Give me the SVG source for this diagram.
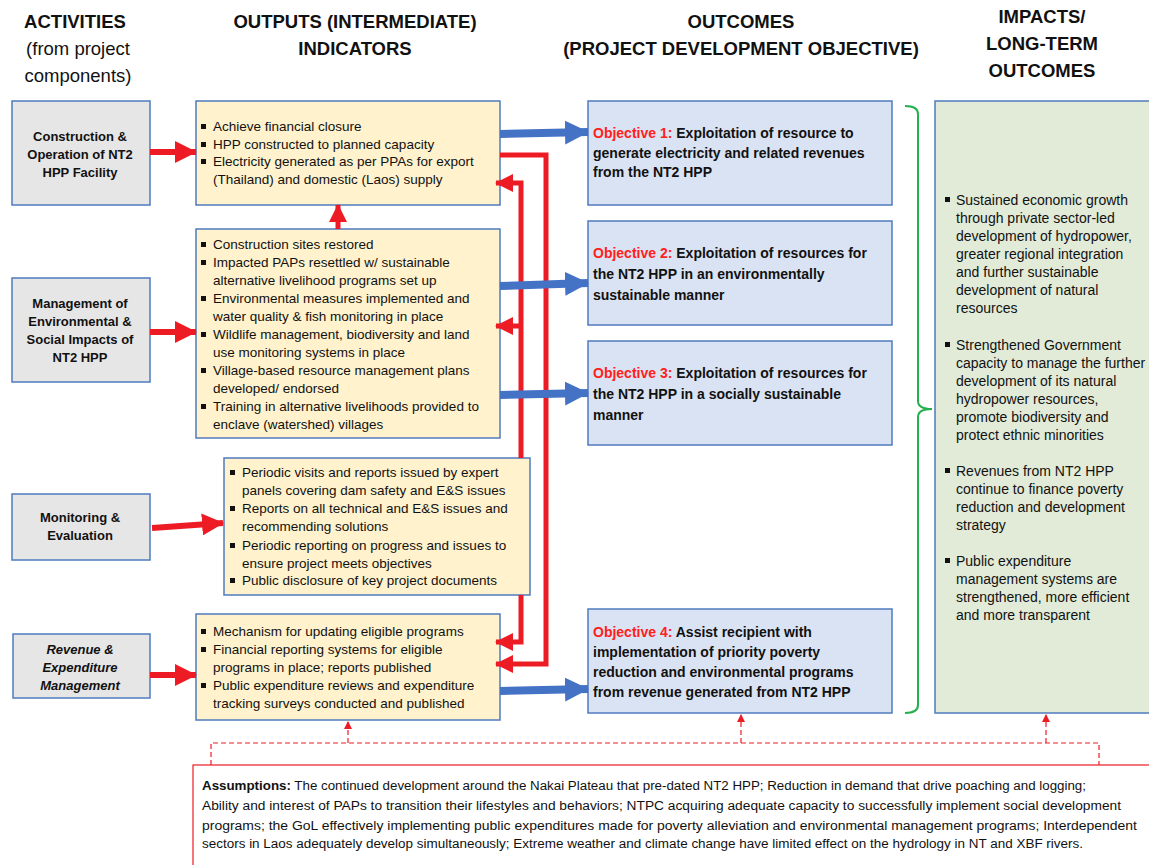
<svg xmlns="http://www.w3.org/2000/svg" width="1149" height="865" viewBox="0 0 1149 865">
<defs>
<style>
text{font-family:"Liberation Sans",Arial,sans-serif;fill:#111}
.h{font-size:18.5px;font-weight:bold;text-anchor:middle}
.hr{font-size:18.5px;text-anchor:middle}
.act{fill:#e7e6e6;stroke:#4f7bbf;stroke-width:1.5}
.out{fill:#fff2cc;stroke:#4f7bbf;stroke-width:1.5}
.obj{fill:#dae3f3;stroke:#4f7bbf;stroke-width:1.5}
.imp{fill:#e2ebd8;stroke:#4f7bbf;stroke-width:1.5}
.at{font-size:13px;font-weight:bold;text-anchor:middle}
.ai{font-style:italic}
.ot{font-size:13.5px}
.bt{font-size:14px;font-weight:bold}
.red{fill:#ff2020}
.it{font-size:14px}
.as{font-size:12px}
.bul{fill:#111}
.blue{stroke:#4472c4;stroke-width:8;fill:none}
.rd{stroke:#ed1c24;stroke-width:6;fill:none}
.rl{stroke:#ed1c24;stroke-width:5;fill:none}
.dash{stroke:#ed1c24;stroke-width:1.2;fill:none;stroke-dasharray:5,3}
</style>
<marker id="bh" markerUnits="userSpaceOnUse" viewBox="0 0 24 24" markerWidth="24" markerHeight="24" refX="23" refY="12" orient="auto"><path d="M0,0 L24,12 L0,24 z" fill="#4472c4"/></marker>
<marker id="rh" markerUnits="userSpaceOnUse" viewBox="0 0 22 22" markerWidth="22" markerHeight="22" refX="21" refY="11" orient="auto"><path d="M0,0 L22,11 L0,22 z" fill="#ed1c24"/></marker>
<marker id="rs" markerUnits="userSpaceOnUse" viewBox="0 0 18 18" markerWidth="18" markerHeight="18" refX="17" refY="9" orient="auto"><path d="M0,0 L18,9 L0,18 z" fill="#ed1c24"/></marker>
<marker id="rt" markerUnits="userSpaceOnUse" viewBox="0 0 8 8" markerWidth="8" markerHeight="8" refX="7" refY="4" orient="auto"><path d="M0,0 L8,4 L0,8 z" fill="#ed1c24"/></marker>
</defs>
<rect width="1149" height="865" fill="#fff"/>

<g id="headers">
<text class="h" x="75" y="28">ACTIVITIES</text>
<text class="hr" x="78" y="55">(from project</text>
<text class="hr" x="78" y="82">components)</text>
<text class="h" x="355" y="28">OUTPUTS (INTERMEDIATE)</text>
<text class="h" x="355" y="55">INDICATORS</text>
<text class="h" x="741" y="28">OUTCOMES</text>
<text class="h" x="741" y="55">(PROJECT DEVELOPMENT OBJECTIVE)</text>
<text class="h" x="1042" y="23">IMPACTS/</text>
<text class="h" x="1042" y="50">LONG-TERM</text>
<text class="h" x="1042" y="77">OUTCOMES</text>
</g>

<g id="act1">
<rect class="act" x="12" y="101" width="138" height="104"/>
<text class="at" x="80" y="141">Construction &amp;</text>
<text class="at" x="80" y="159">Operation of NT2</text>
<text class="at" x="80" y="177">HPP Facility</text>
</g>
<g id="act2">
<rect class="act" x="12" y="278" width="138" height="104"/>
<text class="at" x="80" y="308">Management of</text>
<text class="at" x="80" y="326">Environmental &amp;</text>
<text class="at" x="80" y="344">Social  Impacts of</text>
<text class="at" x="80" y="362">NT2 HPP</text>
</g>
<g id="act3">
<rect class="act" x="12" y="494" width="138" height="66"/>
<text class="at" x="80" y="522">Monitoring &amp;</text>
<text class="at" x="80" y="540">Evaluation</text>
</g>
<g id="act4">
<rect class="act" x="13" y="634" width="137" height="64"/>
<text class="at ai" x="80" y="654">Revenue &amp;</text>
<text class="at ai" x="80" y="672">Expenditure</text>
<text class="at ai" x="80" y="690">Management</text>
</g>

<g id="out1">
<rect class="out" x="196" y="101" width="304" height="104"/>
<rect class="bul" x="201" y="124" width="5" height="5"/>
<rect class="bul" x="201" y="142" width="5" height="5"/>
<rect class="bul" x="201" y="159" width="5" height="5"/>
<text class="ot" x="213" y="131">Achieve financial closure</text>
<text class="ot" x="213" y="149">HPP constructed to planned capacity</text>
<text class="ot" x="213" y="166">Electricity generated as per PPAs for export</text>
<text class="ot" x="213" y="184">(Thailand) and domestic (Laos) supply</text>
</g>
<g id="out2">
<rect class="out" x="196" y="229" width="304" height="209"/>
<rect class="bul" x="201" y="242" width="5" height="5"/>
<rect class="bul" x="201" y="260" width="5" height="5"/>
<rect class="bul" x="201" y="296" width="5" height="5"/>
<rect class="bul" x="201" y="332" width="5" height="5"/>
<rect class="bul" x="201" y="368" width="5" height="5"/>
<rect class="bul" x="201" y="404" width="5" height="5"/>
<text class="ot" x="213" y="249">Construction sites restored</text>
<text class="ot" x="213" y="267">Impacted PAPs resettled w/ sustainable</text>
<text class="ot" x="213" y="285">alternative livelihood programs set up</text>
<text class="ot" x="213" y="303">Environmental measures implemented and</text>
<text class="ot" x="213" y="321">water quality &amp; fish monitoring  in place</text>
<text class="ot" x="213" y="339">Wildlife management, biodiversity and land</text>
<text class="ot" x="213" y="357">use monitoring systems in place</text>
<text class="ot" x="213" y="375">Village-based resource management plans</text>
<text class="ot" x="213" y="393">developed/ endorsed</text>
<text class="ot" x="213" y="411">Training in alternative livelihoods provided to</text>
<text class="ot" x="213" y="429">enclave (watershed) villages</text>
</g>
<g id="out3">
<rect class="out" x="224" y="458" width="306" height="137"/>
<rect class="bul" x="230" y="470" width="5" height="5"/>
<rect class="bul" x="230" y="506" width="5" height="5"/>
<rect class="bul" x="230" y="543" width="5" height="5"/>
<rect class="bul" x="230" y="578" width="5" height="5"/>
<text class="ot" x="242" y="477">Periodic visits and reports issued by expert</text>
<text class="ot" x="242" y="495">panels covering dam safety and E&amp;S issues</text>
<text class="ot" x="242" y="513">Reports on all technical and E&amp;S issues and</text>
<text class="ot" x="242" y="531">recommending solutions</text>
<text class="ot" x="242" y="550">Periodic reporting on progress and issues to</text>
<text class="ot" x="242" y="568">ensure project meets objectives</text>
<text class="ot" x="242" y="585">Public disclosure of key project documents</text>
</g>
<g id="out4">
<rect class="out" x="196" y="614" width="304" height="106"/>
<rect class="bul" x="201" y="629" width="5" height="5"/>
<rect class="bul" x="201" y="647" width="5" height="5"/>
<rect class="bul" x="201" y="683" width="5" height="5"/>
<text class="ot" x="213" y="636">Mechanism for updating eligible programs</text>
<text class="ot" x="213" y="654">Financial reporting systems for eligible</text>
<text class="ot" x="213" y="672">programs in place; reports published</text>
<text class="ot" x="213" y="690">Public expenditure reviews and expenditure</text>
<text class="ot" x="213" y="708">tracking surveys conducted and published</text>
</g>

<g id="obj1">
<rect class="obj" x="588" y="101" width="304" height="104"/>
<text class="bt" x="593" y="138"><tspan class="red">Objective 1:</tspan> Exploitation of resource to</text>
<text class="bt" x="593" y="158">generate electricity and related revenues</text>
<text class="bt" x="593" y="177">from the NT2 HPP</text>
</g>
<g id="obj2">
<rect class="obj" x="588" y="221" width="304" height="104"/>
<text class="bt" x="593" y="258"><tspan class="red">Objective 2:</tspan> Exploitation of resources for</text>
<text class="bt" x="593" y="279">the NT2 HPP in an environmentally</text>
<text class="bt" x="593" y="300">sustainable manner</text>
</g>
<g id="obj3">
<rect class="obj" x="588" y="341" width="304" height="104"/>
<text class="bt" x="593" y="378"><tspan class="red">Objective 3:</tspan> Exploitation of resources for</text>
<text class="bt" x="593" y="399">the NT2 HPP in a socially sustainable</text>
<text class="bt" x="593" y="420">manner</text>
</g>
<g id="obj4">
<rect class="obj" x="588" y="609" width="304" height="104"/>
<text class="bt" x="593" y="637"><tspan class="red">Objective 4:</tspan> Assist recipient with</text>
<text class="bt" x="593" y="657">implementation of priority poverty</text>
<text class="bt" x="593" y="677">reduction and environmental programs</text>
<text class="bt" x="593" y="697">from revenue generated from NT2 HPP</text>
</g>

<g id="impacts">
<rect class="imp" x="935" y="101" width="225" height="612"/>
<rect class="bul" x="945" y="197" width="5" height="5"/>
<rect class="bul" x="945" y="342" width="5" height="5"/>
<rect class="bul" x="945" y="468" width="5" height="5"/>
<rect class="bul" x="945" y="558" width="5" height="5"/>
<text class="it" x="956" y="205">Sustained economic growth</text>
<text class="it" x="956" y="223">through private sector-led</text>
<text class="it" x="956" y="241">development of hydropower,</text>
<text class="it" x="956" y="259">greater regional integration</text>
<text class="it" x="956" y="277">and further sustainable</text>
<text class="it" x="956" y="295">development of natural</text>
<text class="it" x="956" y="313">resources</text>
<text class="it" x="956" y="350">Strengthened Government</text>
<text class="it" x="956" y="368">capacity to manage the further</text>
<text class="it" x="956" y="386">development of its natural</text>
<text class="it" x="956" y="404">hydropower resources,</text>
<text class="it" x="956" y="422">promote biodiversity and</text>
<text class="it" x="956" y="440">protect ethnic minorities</text>
<text class="it" x="956" y="476">Revenues from NT2 HPP</text>
<text class="it" x="956" y="494">continue to finance poverty</text>
<text class="it" x="956" y="512">reduction and development</text>
<text class="it" x="956" y="530">strategy</text>
<text class="it" x="956" y="566">Public expenditure</text>
<text class="it" x="956" y="584">management systems are</text>
<text class="it" x="956" y="602">strengthened, more efficient</text>
<text class="it" x="956" y="620">and more transparent</text>
</g>

<g id="assumptions">
<rect x="193" y="765" width="970" height="110" fill="#fff" stroke="#ed1c24" stroke-width="1.2"/>
<text class="as" x="202" y="790" textLength="884" lengthAdjust="spacingAndGlyphs"><tspan font-weight="bold">Assumptions:</tspan> The continued development around the Nakai Plateau that pre-dated NT2 HPP; Reduction in demand that drive poaching and logging;</text>
<text class="as" x="202" y="810" textLength="919" lengthAdjust="spacingAndGlyphs">Ability and interest of PAPs to transition their lifestyles and behaviors; NTPC acquiring adequate capacity to successfully implement social development</text>
<text class="as" x="202" y="830" textLength="935" lengthAdjust="spacingAndGlyphs">programs; the GoL effectively implementing public expenditures made for poverty alleviation and environmental management programs; Interdependent</text>
<text class="as" x="202" y="848" textLength="881" lengthAdjust="spacingAndGlyphs">sectors in Laos adequately develop simultaneously; Extreme weather and climate change have limited effect on the hydrology in NT and XBF rivers.</text>
</g>

<g id="connectors">
<line class="rd" x1="150" y1="152" x2="196" y2="152" marker-end="url(#rh)"/>
<line class="rd" x1="150" y1="332" x2="196" y2="332" marker-end="url(#rh)"/>
<line class="rd" x1="152" y1="528" x2="223" y2="523" marker-end="url(#rh)"/>
<line class="rd" x1="150" y1="675" x2="196" y2="675" marker-end="url(#rh)"/>
<line class="rl" x1="338" y1="229" x2="338" y2="205" marker-end="url(#rs)"/>
<path class="rl" d="M500,155 H546 V664 H496" marker-end="url(#rs)"/>
<path class="rl" d="M521,458 V183 H496" marker-end="url(#rs)"/>
<line class="rl" x1="521" y1="326" x2="496" y2="326" marker-end="url(#rs)"/>
<path class="rl" d="M521,595 V642 H496" marker-end="url(#rs)"/>
<line class="blue" x1="500" y1="134" x2="588" y2="132" marker-end="url(#bh)"/>
<line class="blue" x1="500" y1="286" x2="588" y2="283" marker-end="url(#bh)"/>
<line class="blue" x1="500" y1="395" x2="588" y2="393" marker-end="url(#bh)"/>
<line class="blue" x1="500" y1="691" x2="588" y2="689" marker-end="url(#bh)"/>
<path d="M905,106 Q918,106 918,114 V401 Q918,409 932,409 Q918,409 918,417 V705 Q918,713 905,713" fill="none" stroke="#22b14c" stroke-width="2"/>
<path class="dash" d="M211,765 V743 H1099 V765"/>
<line class="dash" x1="348" y1="743" x2="348" y2="722" marker-end="url(#rt)"/>
<line class="dash" x1="741" y1="743" x2="741" y2="715" marker-end="url(#rt)"/>
<line class="dash" x1="1046" y1="743" x2="1046" y2="715" marker-end="url(#rt)"/>
</g>
</svg>
